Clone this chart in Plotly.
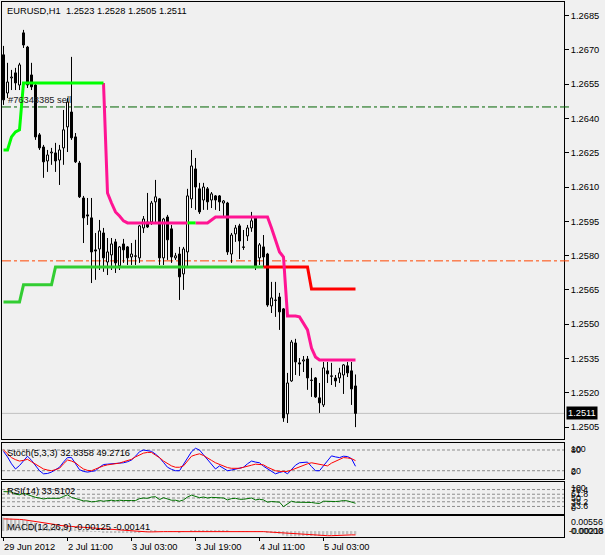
import plotly.graph_objects as go

W, H = 605, 555
def px(x): return x / W
def py(y): return 1 - y / H

FONT = "Liberation Sans, Arial, sans-serif"
FS = 9.3

# ---------------- data ----------------
bar_index = list(range(89))
time_tick_bars = [0, 16, 32, 48, 64, 80]
time_tick_labels = ["29 Jun 2012", "2 Jul 11:00", "3 Jul 03:00", "3 Jul 19:00", "4 Jul 11:00", "5 Jul 03:00"]

price_tick_values = [1.2505, 1.2520, 1.2535, 1.2550, 1.2565, 1.2580, 1.2595,
                     1.2610, 1.2625, 1.2640, 1.2655, 1.2670, 1.2685]
price_tick_labels = ["1.2505", "1.2520", "1.2535", "1.2550", "1.2565", "1.2580", "1.2595",
                     "1.2610", "1.2625", "1.2640", "1.2655", "1.2670", "1.2685"]

open_ = [
    1.26678, 1.26511, 1.26577, 1.26599, 1.26546, 1.26774, 1.26712, 1.26590, 1.26546, 1.26328,
    1.26275, 1.26214, 1.26249, 1.26249, 1.26218, 1.26271, 1.26363, 1.26428, 1.26319, 1.26205,
    1.26052, 1.25978, 1.25965, 1.25825, 1.25829, 1.25899, 1.25772, 1.25803, 1.25860, 1.25755,
    1.25851, 1.25838, 1.25794, 1.25799, 1.25790, 1.25921, 1.25947, 1.25947, 1.26035, 1.26048,
    1.25790, 1.25969, 1.25917, 1.25790, 1.25807, 1.25720, 1.25816, 1.26048, 1.26179, 1.26092,
    1.26043, 1.26092, 1.26043, 1.26061, 1.26061, 1.26030, 1.26030, 1.25807, 1.25895, 1.25930,
    1.25838, 1.25886, 1.25921, 1.25969, 1.25790, 1.25838, 1.25807, 1.25580, 1.25606, 1.25619,
    1.25567, 1.25108, 1.25252, 1.25418, 1.25331, 1.25339, 1.25348, 1.25256, 1.25265, 1.25178,
    1.25147, 1.25296, 1.25274, 1.25265, 1.25265, 1.25278, 1.25318, 1.25296, 1.25230]
high = [
    1.26717, 1.26643, 1.26612, 1.26621, 1.26643, 1.26787, 1.26717, 1.26643, 1.26555, 1.26336,
    1.26284, 1.26262, 1.26271, 1.26293, 1.26284, 1.26437, 1.26489, 1.26669, 1.26336, 1.26214,
    1.26061, 1.26052, 1.26052, 1.25899, 1.25956, 1.25921, 1.25877, 1.25877, 1.25873, 1.25842,
    1.25873, 1.25842, 1.25855, 1.25869, 1.25934, 1.25973, 1.26074, 1.26039, 1.26131, 1.26052,
    1.25965, 1.25978, 1.25934, 1.25812, 1.25838, 1.25838, 1.26092, 1.26262, 1.26227, 1.26118,
    1.26118, 1.26100, 1.26078, 1.26065, 1.26065, 1.26043, 1.26035, 1.25899, 1.25934, 1.25939,
    1.25912, 1.25934, 1.25991, 1.25973, 1.25855, 1.25890, 1.25812, 1.25685, 1.25685, 1.25637,
    1.25571, 1.25287, 1.25431, 1.25436, 1.25352, 1.25361, 1.25361, 1.25309, 1.25269, 1.25243,
    1.25335, 1.25335, 1.25331, 1.25278, 1.25309, 1.25326, 1.25335, 1.25335, 1.25280]
low = [
    1.26459, 1.26489, 1.26524, 1.26524, 1.26524, 1.26708, 1.26533, 1.26524, 1.26306, 1.26262,
    1.26140, 1.26166, 1.26197, 1.26166, 1.26109, 1.26197, 1.26253, 1.26306, 1.26205, 1.26052,
    1.25855, 1.25934, 1.25680, 1.25694, 1.25737, 1.25729, 1.25715, 1.25737, 1.25724, 1.25737,
    1.25768, 1.25759, 1.25759, 1.25759, 1.25768, 1.25899, 1.25921, 1.25934, 1.25947, 1.25759,
    1.25759, 1.25781, 1.25768, 1.25781, 1.25606, 1.25650, 1.25746, 1.26008, 1.26000, 1.25982,
    1.26000, 1.26000, 1.26008, 1.26000, 1.25995, 1.25965, 1.25803, 1.25768, 1.25860, 1.25785,
    1.25825, 1.25864, 1.25904, 1.25737, 1.25759, 1.25750, 1.25576, 1.25549, 1.25532, 1.25475,
    1.25073, 1.25068, 1.25248, 1.25278, 1.25274, 1.25291, 1.25213, 1.25182, 1.25178, 1.25112,
    1.25138, 1.25243, 1.25234, 1.25226, 1.25243, 1.25195, 1.25269, 1.25147, 1.25050]
close = [
    1.26481, 1.26559, 1.26581, 1.26555, 1.26634, 1.26721, 1.26546, 1.26538, 1.26319, 1.26271,
    1.26210, 1.26240, 1.26253, 1.26214, 1.26262, 1.26350, 1.26472, 1.26315, 1.26210, 1.26057,
    1.25965, 1.25973, 1.25816, 1.25820, 1.25908, 1.25790, 1.25816, 1.25851, 1.25768, 1.25838,
    1.25825, 1.25790, 1.25807, 1.25797, 1.25930, 1.25960, 1.25925, 1.26030, 1.26057, 1.25790,
    1.25960, 1.25869, 1.25794, 1.25799, 1.25707, 1.25829, 1.26061, 1.26192, 1.26100, 1.25991,
    1.26100, 1.26035, 1.26070, 1.26043, 1.26035, 1.26039, 1.25816, 1.25890, 1.25921, 1.25864,
    1.25836, 1.25921, 1.25952, 1.25750, 1.25847, 1.25794, 1.25584, 1.25615, 1.25604, 1.25554,
    1.25090, 1.25243, 1.25422, 1.25335, 1.25326, 1.25344, 1.25265, 1.25254, 1.25182, 1.25156,
    1.25309, 1.25283, 1.25272, 1.25252, 1.25287, 1.25322, 1.25287, 1.25217, 1.25110]

# fast trailing line (lime / deep pink)
fast_trail = (
    [1.26262, 1.26262, 1.26319, 1.26341, 1.26350] + [1.26555] * 21 +
    [1.26074, 1.26030, 1.25991, 1.25973, 1.25952] + [1.25943] * 21 +
    [1.25956] + [1.25969] * 14 +
    [1.25921, 1.25869, 1.25816, 1.25794, 1.25536, 1.25536, 1.25536, 1.25532,
     1.25505, 1.25475, 1.25396, 1.25357] + [1.25344] * 10)
fast_up_bars = list(range(0, 26)) + [46, 47, 48]
fast_dn_bars = list(range(25, 47)) + list(range(48, 89))

# slow trailing line (lime green / red)
slow_trail = [1.25597] * 5 + [1.25672] * 8 + [1.25750] * 64 + [1.25654] * 12
slow_up_bars = list(range(0, 66))
slow_dn_bars = list(range(65, 89))

stoch_main = [
    76, 60, 40, 25, 35, 48, 62, 50, 34, 20,
    11, 12, 16, 22, 30, 45, 58, 58, 40, 23,
    18, 16, 18, 20, 30, 38, 39, 40, 39, 41,
    43, 46, 51, 62, 75, 80, 78, 76, 68, 58,
    44, 30, 24, 20, 20, 38, 58, 75, 85, 80,
    66, 53, 38, 25, 34, 26, 20, 22, 25, 28,
    30, 40, 48, 45, 43, 33, 25, 18, 11, 15,
    18, 11, 25, 36, 43, 44, 45, 32, 20, 20,
    35, 48, 63, 60, 58, 62, 61, 55, 32.84]
stoch_signal = [
    80, 68, 58, 52, 48, 50, 53, 46, 39, 31,
    25, 22, 20, 23, 27, 40, 51, 48, 43, 33,
    25, 21, 20, 25, 30, 34, 37, 38, 39, 42,
    46, 50, 53, 60, 66, 71, 73, 73, 65, 58,
    48, 40, 34, 30, 30, 34, 48, 62, 66, 69,
    64, 58, 50, 43, 38, 32, 29, 27, 27, 27,
    30, 34, 36, 39, 38, 37, 30, 25, 20, 18,
    18, 18, 22, 27, 32, 37, 40, 43, 41, 39,
    36, 34, 42, 48, 54, 58, 57, 55, 49.27]
stoch_levels = [80, 20]

rsi = [
    70, 70, 69, 62, 60, 65, 60, 57, 52, 50,
    47, 49, 49, 48, 49, 55, 60, 52, 48, 44,
    41, 41, 38, 39, 42, 40, 42, 43, 41, 43,
    42, 41, 42, 42, 48, 50, 49, 53, 54, 45,
    51, 47, 43, 43, 40, 44, 53, 59, 55, 51,
    53, 50, 52, 51, 50, 50, 44, 48, 49, 46,
    46, 48, 50, 44, 46, 44, 37, 39, 39, 37,
    23, 32, 40, 37, 37, 38, 36, 36, 34, 33,
    40, 39, 39, 39, 40, 42, 41, 38, 33.51]
rsi_levels = [76.4, 61.8, 50, 38.2, 23.6]
rsi_level_labels = ["76.4", "61.8", "50", "38.2", "23.6"]

macd_main = [
    0.0050, 0.0048, 0.0046, 0.0043, 0.0041, 0.0041, 0.0038, 0.0035, 0.0030, 0.0026,
    0.0022, 0.0019, 0.0017, 0.0015, 0.0013, 0.0013, 0.0014, 0.0012, 0.0010, 0.0007,
    0.0004, 0.0002, -0.0001, -0.0003, -0.0003, -0.0004, -0.0005, -0.0005, -0.0006, -0.0005,
    -0.0005, -0.0006, -0.0006, -0.0006, -0.0004, -0.0002, -0.0001, 0.0001, 0.0002, 0.0000,
    0.0000, -0.0001, -0.0002, -0.0003, -0.0004, -0.0003, 0.0000, 0.0003, 0.0004, 0.0004,
    0.0004, 0.0004, 0.0004, 0.0004, 0.0003, 0.0003, 0.0001, 0.0000, 0.0000, -0.0001,
    -0.0001, -0.0001, 0.0000, -0.0002, -0.0002, -0.0003, -0.0005, -0.0007, -0.0008, -0.0010,
    -0.0016, -0.0019, -0.0019, -0.0019, -0.0019, -0.0018, -0.0018, -0.0018, -0.0018, -0.0018,
    -0.0016, -0.0015, -0.0014, -0.0014, -0.0013, -0.0012, -0.0012, -0.0012, -0.00125]
macd_signal = [
    0.0045, 0.0045, 0.0044, 0.0044, 0.0043, 0.0042, 0.0040, 0.0038, 0.0036, 0.0034,
    0.0032, 0.0030, 0.0027, 0.0024, 0.0021, 0.0019, 0.0018, 0.0017, 0.0016, 0.0015,
    0.0014, 0.0013, 0.0012, 0.0011, 0.0009, 0.0008, 0.0007, 0.0006, 0.0005, 0.0004,
    0.0003, 0.0001, 0.0000, -0.0002, -0.0003, -0.0003, -0.0003, -0.0003, -0.0002, -0.0002,
    -0.0002, -0.0002, -0.0002, -0.0002, -0.0002, -0.0002, -0.0002, -0.0002, -0.0002, -0.0001,
    -0.0001, -0.0001, 0.0000, 0.0000, 0.0000, 0.0000, 0.0000, -0.0001, -0.0001, -0.0001,
    -0.0002, -0.0002, -0.0002, -0.0002, -0.0002, -0.0002, -0.0003, -0.0004, -0.0005, -0.0006,
    -0.0008, -0.0009, -0.0010, -0.0011, -0.0012, -0.0013, -0.0014, -0.0015, -0.0016, -0.0016,
    -0.0017, -0.0017, -0.0017, -0.0016, -0.0016, -0.0015, -0.0015, -0.0014, -0.00141]
macd_scale_max = 0.00556
macd_scale_min = -0.00218

sell_order_price = 1.26450
sell_order_label = "#76348385 sell"
level_price = 1.25777
bid_price = 1.2511
title_text = "EURUSD,H1\u00a0 1.2523 1.2528 1.2505 1.2511"

# ---------------- figure ----------------
fig = go.Figure()

# candle bodies
body_base = [min(o, c) for o, c in zip(open_, close)]
body_h = [max(abs(c - o), 0.00001) for o, c in zip(open_, close)]
body_col = ["white" if c >= o else "black" for o, c in zip(open_, close)]
fig.add_trace(go.Bar(x=bar_index, y=body_h, base=body_base, width=0.5,
                     marker=dict(color=body_col, line=dict(color="black", width=1)),
                     xaxis="x", yaxis="y", hoverinfo="skip"))

# wicks (above and below the body)
wx, wy = [], []
for i, o, h, l, c in zip(bar_index, open_, high, low, close):
    top, bot = max(o, c), min(o, c)
    wx += [i, i, None, i, i, None]
    wy += [h, top, None, bot, l, None]
fig.add_trace(go.Scatter(x=wx, y=wy, mode="lines", line=dict(color="black", width=1),
                         xaxis="x", yaxis="y", hoverinfo="skip"))

def seg(values, idx):
    s = set(idx)
    return [v if i in s else None for i, v in enumerate(values)]

fig.add_trace(go.Scatter(x=bar_index, y=seg(slow_trail, slow_up_bars), mode="lines",
                         line=dict(color="#32CD32", width=3), connectgaps=False,
                         xaxis="x", yaxis="y", hoverinfo="skip"))
fig.add_trace(go.Scatter(x=bar_index, y=seg(slow_trail, slow_dn_bars), mode="lines",
                         line=dict(color="#FF0000", width=3), connectgaps=False,
                         xaxis="x", yaxis="y", hoverinfo="skip"))
fig.add_trace(go.Scatter(x=bar_index, y=seg(fast_trail, fast_dn_bars), mode="lines",
                         line=dict(color="#FF1493", width=3), connectgaps=False,
                         xaxis="x", yaxis="y", hoverinfo="skip"))
fig.add_trace(go.Scatter(x=bar_index, y=seg(fast_trail, fast_up_bars), mode="lines",
                         line=dict(color="#00FF00", width=3), connectgaps=False,
                         xaxis="x", yaxis="y", hoverinfo="skip"))

# stochastic
fig.add_trace(go.Scatter(x=bar_index, y=stoch_main, mode="lines",
                         line=dict(color="#0000FF", width=1), xaxis="x2", yaxis="y2", hoverinfo="skip"))
fig.add_trace(go.Scatter(x=bar_index, y=stoch_signal, mode="lines",
                         line=dict(color="#FF0000", width=1), xaxis="x2", yaxis="y2", hoverinfo="skip"))
# RSI
fig.add_trace(go.Scatter(x=bar_index, y=rsi, mode="lines",
                         line=dict(color="#007000", width=1), xaxis="x3", yaxis="y3", hoverinfo="skip"))
# MACD
fig.add_trace(go.Bar(x=bar_index, y=macd_main, width=0.4, marker=dict(color="#C0C0C0", line=dict(width=0)),
                     xaxis="x4", yaxis="y4", hoverinfo="skip"))
fig.add_trace(go.Scatter(x=bar_index, y=macd_signal, mode="lines",
                         line=dict(color="#FF0000", width=1), xaxis="x4", yaxis="y4", hoverinfo="skip"))

shapes = []
shapes.append(dict(type="line", xref="x domain", yref="y", x0=0, x1=1, y0=sell_order_price, y1=sell_order_price,
                   line=dict(color="#006400", width=1, dash="9px,3px,3px,3px"), layer="below"))
shapes.append(dict(type="line", xref="x domain", yref="y", x0=0, x1=1, y0=level_price, y1=level_price,
                   line=dict(color="#FF4500", width=1, dash="9px,3px,3px,3px"), layer="below"))
shapes.append(dict(type="line", xref="x domain", yref="y", x0=0, x1=1, y0=bid_price, y1=bid_price,
                   line=dict(color="#C0C0C0", width=1), layer="below"))
shapes.append(dict(type="line", xref="paper", yref="y", x0=px(564), x1=px(569), y0=sell_order_price, y1=sell_order_price,
                   line=dict(color="#006400", width=1)))
shapes.append(dict(type="line", xref="paper", yref="y", x0=px(564), x1=px(569), y0=level_price, y1=level_price,
                   line=dict(color="#FF4500", width=1)))
for lv in stoch_levels:
    shapes.append(dict(type="line", xref="x2 domain", yref="y2", x0=0, x1=1, y0=lv, y1=lv,
                       line=dict(color="#8C8C8C", width=1, dash="3px,2px"), layer="below"))
for lv in rsi_levels:
    shapes.append(dict(type="line", xref="x3 domain", yref="y3", x0=0, x1=1, y0=lv, y1=lv,
                       line=dict(color="#8C8C8C", width=1, dash="3px,2px"), layer="below"))

ann = []
def txt(text, x, y, xref="paper", yref="paper", xanchor="left", yanchor="middle", color="black", size=FS, **kw):
    ann.append(dict(text=text, x=x, y=y, xref=xref, yref=yref, xanchor=xanchor, yanchor=yanchor,
                    showarrow=False, font=dict(family=FONT, size=size, color=color), borderpad=0, **kw))

txt(title_text, px(6), py(11))
txt(sell_order_label, px(7), sell_order_price, yref="y", yanchor="bottom", color="#202020", yshift=1)
ann.append(dict(text="1.2511", x=px(566), y=bid_price, xref="paper", yref="y", xanchor="left", yanchor="middle",
                showarrow=False, bgcolor="black", font=dict(family=FONT, size=FS, color="white"), borderpad=1))
txt("Stoch(5,3,3) 32.8358 49.2716", px(6), py(453))
txt("RSI(14) 33.5102", px(6), py(491))
txt("MACD(12,26,9) -0.00125 -0.00141", px(6), py(527))

# sub-window scale labels
SFS = 8.8
txt("100", px(570), 100, yref="y2", yanchor="top", size=SFS)
txt("80", px(570), 80, yref="y2", size=SFS)
txt("20", px(570), 20, yref="y2", size=SFS)
txt("0", px(570), 0, yref="y2", yanchor="bottom", size=SFS)
txt("100", px(570), 100, yref="y3", yanchor="top", size=SFS)
for lv, lb in zip(rsi_levels, rsi_level_labels):
    txt(lb, px(570), lv, yref="y3", size=SFS)
txt("0", px(570), 0, yref="y3", yanchor="bottom", size=SFS)
txt("0.00556", px(570), macd_scale_max, yref="y4", yanchor="top", size=SFS)
txt("0.00000", px(570), 0, yref="y4", size=SFS)
txt("-0.00218", px(568), macd_scale_min, yref="y4", yanchor="bottom", size=SFS)

for b, lb in zip(time_tick_bars, time_tick_labels):
    txt(lb, b, py(547), xref="x4", xshift=-1)

xr = [-0.375, 140.125]
xdom = [px(2), px(564)]
base_x = dict(range=xr, domain=xdom, showgrid=False, zeroline=False, showticklabels=False,
              showline=True, linecolor="black", linewidth=1, mirror=True, fixedrange=True)
base_y = dict(showgrid=False, zeroline=False, showticklabels=False, showline=True,
              linecolor="black", linewidth=1, mirror=True, fixedrange=True)

fig.update_layout(
    width=W, height=H, margin=dict(l=0, r=0, t=0, b=0),
    paper_bgcolor="#F0F0F0", plot_bgcolor="#F0F0F0", showlegend=False, barmode="overlay",
    xaxis=dict(base_x, anchor="y"),
    xaxis2=dict(base_x, anchor="y2", matches="x"),
    xaxis3=dict(base_x, anchor="y3", matches="x"),
    xaxis4=dict(base_x, anchor="y4", matches="x", ticks="outside", ticklen=3, tickcolor="black",
                tickmode="array", tickvals=time_tick_bars),
    yaxis=dict(base_y, anchor="x", domain=[py(439), py(2)], range=[1.24998, 1.26909], side="right",
               showticklabels=True, ticks="outside", ticklen=4, tickcolor="black", tickmode="array",
               tickvals=price_tick_values, ticktext=price_tick_labels,
               tickfont=dict(family=FONT, size=FS, color="black")),
    yaxis2=dict(base_y, anchor="x2", domain=[py(479), py(443)], range=[-4.0, 100.3]),
    yaxis3=dict(base_y, anchor="x3", domain=[py(514), py(482)], range=[0, 100]),
    yaxis4=dict(base_y, anchor="x4", domain=[py(537), py(516)], range=[macd_scale_min, macd_scale_max]),
    shapes=shapes, annotations=ann,
)

fig.write_html("out.html", config={"displayModeBar": False},
               post_script="document.body.style.margin='0px';document.body.style.overflow='hidden';")
